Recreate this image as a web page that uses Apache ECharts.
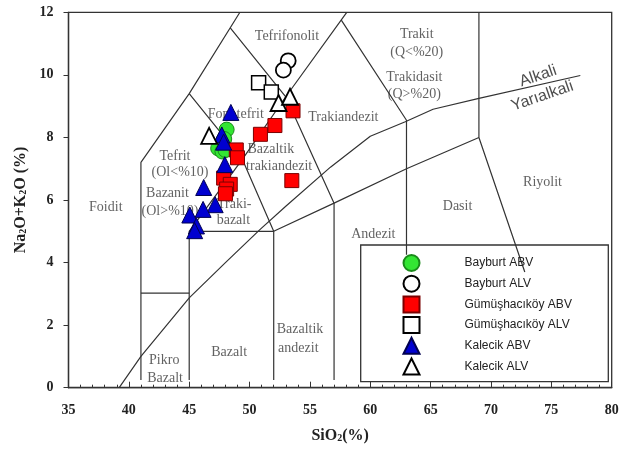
<!DOCTYPE html>
<html>
<head>
<meta charset="utf-8">
<script src="https://cdn.jsdelivr.net/npm/echarts@6/dist/echarts.min.js"></script>
<style>
  html, body { margin: 0; padding: 0; background: #fff; }
  #chart { width: 628px; height: 452px; }
</style>
</head>
<body>
<div id="chart"></div>
<script>
// --- Sample compositions (SiO2 %, Na2O+K2O %) ---
const bayburtABV = [[48.1, 8.25], [47.9, 7.95], [47.4, 7.65], [47.75, 7.55], [48.0, 7.6]];
const bayburtALV = [[53.2, 10.45], [52.8, 10.15]];
const gumusABV = [[48.9, 7.6], [49.0, 7.35], [50.9, 8.1], [52.1, 8.38], [53.6, 8.85],
                  [53.5, 6.62], [47.85, 6.7], [48.4, 6.5], [48.1, 6.35], [48.0, 6.2]];
const gumusALV = [[50.75, 9.75], [51.8, 9.45]];
const kalecikABV = [[48.45, 8.8], [47.7, 8.08], [47.85, 7.85], [47.95, 7.13], [46.2, 6.4],
                    [47.15, 5.85], [46.15, 5.7], [45.05, 5.52], [45.6, 5.17], [45.45, 5.02]];
const kalecikALV = [[46.65, 8.05], [52.4, 9.1], [53.35, 9.3]];

const seriesNames = ['Bayburt ABV', 'Bayburt ALV', 'Gümüşhacıköy ABV',
                     'Gümüşhacıköy ALV', 'Kalecik ABV', 'Kalecik ALV'];

// --- Axis ticks ---
const xTicks = [35, 40, 45, 50, 55, 60, 65, 70, 75, 80];
const yTicks = [0, 2, 4, 6, 8, 10, 12];

// --- TAS field boundaries (SiO2, total alkali) ---
const fieldBoundaries = [
  [[41, 0.25], [41, 7.2], [45, 9.4], [49.2, 12]],
  [[41, 3.02], [45, 3.02]],
  [[45, 0.25], [45, 5], [49.4, 7.3], [53, 9.3], [58.05, 12]],
  [[52, 0.25], [52, 5], [49.4, 7.3], [45, 9.4]],
  [[45, 5], [52, 5], [57, 5.9], [63, 7], [69, 8]],
  [[48.4, 11.5], [53, 9.3], [57, 5.9], [57, 0.25]],
  [[57.6, 11.75], [63, 8.55], [63, 4.25]],
  [[69, 12], [69, 8], [72.8, 3.7]]
];

// Alkaline / subalkaline divide
const alkaliDivide = [[39.2, 0], [41, 1.0], [45, 2.87], [48, 4.0], [50.9, 5.07], [53, 5.8],
                      [56.7, 7.05], [60, 8.04], [62.9, 8.5], [65.2, 8.9], [69, 9.25], [77.4, 9.98]];

// --- Field names and where they sit ---
const fieldNames = ['Tefrifonolit', 'Trakit', '(Q<%20)', 'Trakidasit', '(Q>%20)', 'Trakiandezit',
                    'Fonotefrit', 'Bazaltik', 'trakiandezit', 'Tefrit', '(Ol<%10)', 'Bazanit',
                    '(Ol>%10)', 'Traki-', 'bazalt', 'Foidit', 'Pikro', 'Bazalt', 'Bazalt',
                    'Bazaltik', 'andezit', 'Andezit', 'Dasit', 'Riyolit'];
const fieldNamePos = [[53.1, 11.24], [63.85, 11.3], [63.85, 10.73], [63.65, 9.91], [63.65, 9.38],
                      [57.77, 8.63], [48.86, 8.73], [51.76, 7.61], [52.45, 7.08], [43.82, 7.4],
                      [44.24, 6.89], [43.2, 6.2], [43.41, 5.64], [48.73, 5.85], [48.66, 5.35],
                      [38.09, 5.75], [42.93, 0.89], [43.0, 0.3], [48.31, 1.12], [54.18, 1.85],
                      [54.04, 1.26], [60.25, 4.89], [67.23, 5.8], [74.27, 6.57]];
const divideNames = ['Alkali', 'Yarıalkali'];
const divideNamePos = [[73.9, 9.96], [74.25, 9.32]];

const serif = '"Liberation Serif", "Times New Roman", serif';
const sans = '"Liberation Sans", Arial, sans-serif';
const lineColor = '#333';

const chart = echarts.init(document.getElementById('chart'), null, { renderer: 'canvas' });

const boundarySeries = fieldBoundaries.map(pts => ({
  type: 'line', data: pts, symbol: 'none', silent: true, z: 2,
  lineStyle: { color: lineColor, width: 1.2 }, animation: false
}));
boundarySeries.push({
  type: 'line', data: alkaliDivide, symbol: 'none', silent: true, z: 2,
  lineStyle: { color: lineColor, width: 1.2 }, animation: false
});

const labelSeries = {
  type: 'scatter', silent: true, z: 1, symbolSize: 0, animation: false,
  data: fieldNames.map((n, i) => ({ value: fieldNamePos[i], name: n })),
  label: {
    show: true, position: 'inside', formatter: p => p.name,
    fontFamily: serif, fontSize: 14, color: '#3a3a3a'
  }
};
const divideLabelSeries = {
  type: 'scatter', silent: true, z: 1, symbolSize: 0, animation: false,
  data: divideNames.map((n, i) => ({ value: divideNamePos[i], name: n })),
  label: {
    show: true, position: 'inside', formatter: p => p.name, rotate: 19,
    fontFamily: sans, fontSize: 16, color: '#222'
  }
};

function sampleSeries(name, data, symbol, size, fill, border, bw) {
  return {
    name, type: 'scatter', data, symbol, symbolSize: size, z: 3, animation: false,
    itemStyle: { color: fill, borderColor: border, borderWidth: bw, opacity: 1 }
  };
}

const option = {
  animation: false,
  backgroundColor: '#fff',
  grid: {
    left: 68.5, right: 16.3, top: 12.3, bottom: 64.3,
    show: true, borderColor: lineColor, borderWidth: 1.3,
    outerBoundsMode: 'none'
  },
  xAxis: {
    type: 'value', min: xTicks[0], max: xTicks[xTicks.length - 1], interval: 5,
    name: '{a|SiO}{s|2}{a|(%)}', nameLocation: 'middle', nameGap: 40,
    nameTextStyle: {
      fontFamily: serif, fontWeight: 'bold', fontSize: 16, color: '#222',
      rich: {
        a: { fontFamily: serif, fontWeight: 'bold', fontSize: 16, lineHeight: 16, color: '#222' },
        s: { fontFamily: serif, fontWeight: 'bold', fontSize: 10, lineHeight: 8, verticalAlign: 'bottom', color: '#222' }
      }
    },
    axisLine: { show: true, lineStyle: { color: lineColor, width: 1.3 } },
    axisTick: { show: true, inside: true, length: 6, lineStyle: { color: lineColor } },
    minorTick: { show: true, splitNumber: 5, length: 3, lineStyle: { color: lineColor } },
    splitLine: { show: false },
    axisLabel: {
      margin: 16, fontFamily: serif, fontWeight: 'bold', fontSize: 14, color: '#222',
      formatter: v => xTicks.includes(v) ? String(v) : ''
    }
  },
  yAxis: {
    type: 'value', min: yTicks[0], max: yTicks[yTicks.length - 1], interval: 2,
    name: '{a|Na}{s|2}{a|O+K}{s|2}{a|O (%)}', nameLocation: 'middle', nameGap: 35, nameRotate: 90,
    nameTextStyle: {
      fontFamily: serif, fontWeight: 'bold', fontSize: 16, color: '#222',
      rich: {
        a: { fontFamily: serif, fontWeight: 'bold', fontSize: 16, lineHeight: 16, color: '#222' },
        s: { fontFamily: serif, fontWeight: 'bold', fontSize: 10, lineHeight: 8, verticalAlign: 'bottom', color: '#222' }
      }
    },
    axisLine: { show: true, lineStyle: { color: lineColor, width: 1.3 } },
    axisTick: { show: true, inside: false, length: 5, lineStyle: { color: lineColor } },
    splitLine: { show: false },
    axisLabel: {
      margin: 15, fontFamily: serif, fontWeight: 'bold', fontSize: 14, color: '#222',
      formatter: v => yTicks.includes(v) ? String(v) : ''
    }
  },
  legend: {
    orient: 'vertical', left: 402.5, top: 254, padding: 0,
    itemWidth: 16, itemHeight: 16, itemGap: 2.7,
    selectedMode: false, data: seriesNames,
    textStyle: { fontFamily: sans, fontSize: 12, color: '#222', padding: [0, 0, 0, 40] }
  },
  graphic: [{
    type: 'rect', z: 0, silent: true,
    shape: { x: 360.7, y: 245, width: 247.6, height: 136.7 },
    style: { fill: '#fff', stroke: lineColor, lineWidth: 1.3 }
  }],
  series: [
    ...boundarySeries,
    labelSeries,
    divideLabelSeries,
    sampleSeries(seriesNames[0], bayburtABV, 'circle', 15, '#33e633', '#1a8a1a', 1),
    sampleSeries(seriesNames[1], bayburtALV, 'circle', 15, '#fff', '#000', 1.8),
    sampleSeries(seriesNames[2], gumusABV, 'rect', 14, '#ff0000', '#7a0000', 1),
    sampleSeries(seriesNames[3], gumusALV, 'rect', 14, '#fff', '#000', 1.5),
    sampleSeries(seriesNames[4], kalecikABV, 'triangle', 16, '#0000d0', '#000050', 1),
    sampleSeries(seriesNames[5], kalecikALV, 'triangle', 16, '#fff', '#000', 1.8)
  ]
};

chart.setOption(option);
</script>
</body>
</html>
